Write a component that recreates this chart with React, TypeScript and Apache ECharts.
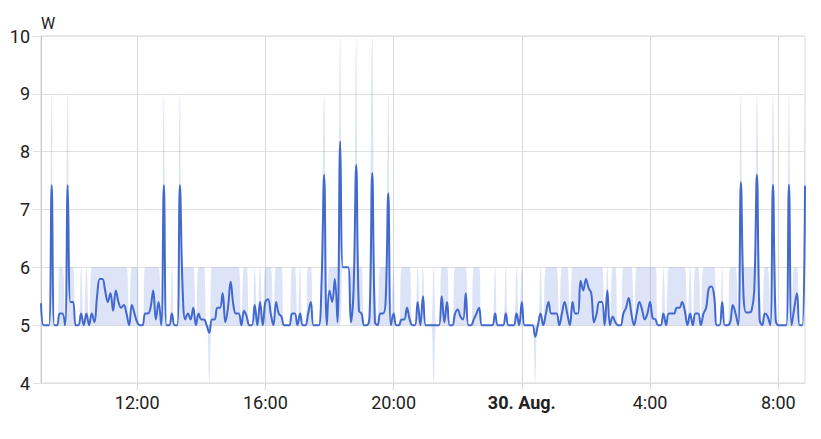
import { useEffect, useRef } from "react";
import * as echarts from "echarts";

// 5-minute statistics, 29 Aug 09:00 -> 30 Aug 08:50 (one row = one hour)
const START_HOUR = 9; // hours since 29 Aug 00:00
const STEP_HOURS = 5 / 60;

const MEAN: number[] = [
  5.38, 5, 5, 5, 7.42, 5, 5, 5.2, 5.2, 5, 7.42, 5.4,
  5.4, 5, 5, 5.2, 5, 5.2, 5, 5.2, 5.05, 5.5, 5.8, 5.8,
  5.6, 5.4, 5.55, 5.25, 5.6, 5.4, 5.3, 5.35, 5.2, 5, 5.35, 5.2,
  5.05, 5, 5, 5.2, 5.2, 5.3, 5.6, 5.1, 5.4, 5, 7.42, 5,
  5, 5.2, 5, 5, 7.42, 5.65, 5.1, 5.2, 5.1, 5.3, 5, 5.2,
  5.1, 5.1, 5, 4.87, 5.1, 5.1, 5.3, 5.3, 5.55, 5.05, 5.3, 5.75,
  5.35, 5.2, 5.2, 5, 5.25, 5.15, 5, 5, 5.35, 5, 5.4, 5,
  5.4, 5.45, 5.2, 5, 5.4, 5.2, 5.15, 5, 5, 5, 5.2, 5.2,
  5, 5.2, 5, 5, 5.2, 5.4, 5, 5, 5, 5.7, 7.6, 5,
  5.6, 5.4, 5.8, 5.05, 8.18, 6, 6, 6, 5.05, 5.6, 7.77, 5.25,
  5.2, 5, 5, 5.15, 7.63, 5.05, 5, 5.2, 5.2, 5.4, 7.28, 5,
  5.2, 5, 5, 5.1, 5.1, 5.3, 5.1, 5, 5, 5.4, 5, 5.5,
  5, 5, 5, 5, 5, 5, 5.5, 5.05, 5.4, 5, 5, 5.2,
  5.27, 5.15, 5.1, 5.55, 5, 5, 5.1, 5.2, 5.3, 5, 5, 5,
  5, 5, 5.2, 5, 5, 5, 5.2, 5, 5, 5, 5.2, 5,
  5.4, 5, 5, 5, 5, 4.8, 5, 5.2, 5, 5.2, 5.4, 5.2,
  5.2, 5.2, 5, 5.2, 5.4, 5.2, 5, 5.4, 5.2, 5.2, 5.77, 5.6,
  5.8, 5.64, 5.55, 5.05, 5.2, 5.4, 5.4, 5, 5.6, 5, 5.15, 5.05,
  5, 5, 5.2, 5.3, 5.47, 5.2, 5, 5.2, 5.4, 5.27, 5.1, 5.2,
  5.4, 5.12, 5.1, 5, 5, 5.2, 5, 5.2, 5.2, 5.2, 5.3, 5.3,
  5.4, 5.25, 5, 5.2, 5, 5.2, 5.2, 5, 5.2, 5.3, 5.64, 5.67,
  5.5, 5, 5, 5.4, 5, 5, 5.05, 5.35, 5.2, 5, 7.47, 5.5,
  5.22, 5.22, 5.25, 5.6, 7.6, 5.1, 5, 5.2, 5.15, 5, 7.43, 5.1,
  5, 5, 5, 5, 7.43, 5, 5.3, 5.55, 5, 5, 7.41,
];

const MIN: number[] = [
  5, 5, 5, 5, 5, 5, 5, 5, 5, 5, 5, 5,
  5, 5, 5, 5, 5, 5, 5, 5, 5, 5, 5, 5,
  5, 5, 5, 5, 5, 5, 5, 5, 5, 5, 5, 5,
  5, 5, 5, 5, 5, 5, 5, 5, 5, 5, 5, 5,
  5, 5, 5, 5, 5, 5, 5, 5, 5, 5, 5, 5,
  5, 5, 5, 4, 5, 5, 5, 5, 5, 5, 5, 5,
  5, 5, 5, 5, 5, 5, 5, 5, 5, 5, 5, 5,
  5, 5, 5, 5, 5, 5, 5, 5, 5, 5, 5, 5,
  5, 5, 5, 5, 5, 5, 5, 5, 5, 5, 5, 5,
  5, 5, 5, 5, 5, 6, 6, 6, 5, 5, 5, 5,
  5, 5, 5, 5, 5, 5, 5, 5, 5, 5, 5, 5,
  5, 5, 5, 5, 5, 5, 5, 5, 5, 5, 5, 5,
  5, 5, 5, 4, 5, 5, 5, 5, 5, 5, 5, 5,
  5, 5, 5, 5, 5, 5, 5, 5, 5, 5, 5, 5,
  5, 5, 5, 5, 5, 5, 5, 5, 5, 5, 5, 5,
  5, 5, 5, 5, 5, 4, 5, 5, 5, 5, 5, 5,
  5, 5, 5, 5, 5, 5, 5, 5, 5, 5, 5, 5,
  5, 5, 5, 5, 5, 5, 5, 5, 5, 5, 5, 5,
  5, 5, 5, 5, 5, 5, 5, 5, 5, 5, 5, 5,
  5, 5, 5, 5, 5, 5, 5, 5, 5, 5, 5, 5,
  5, 5, 5, 5, 5, 5, 5, 5, 5, 5, 5, 5,
  5, 5, 5, 5, 5, 5, 5, 5, 5, 5, 5, 5,
  5, 5, 5, 5, 5, 5, 5, 5, 5, 5, 5, 5,
  5, 5, 5, 5, 5, 5, 5, 5, 5, 5, 5,
];

const MAX: number[] = [
  6, 5, 5, 5, 9, 5, 5, 6, 6, 5, 9, 6,
  6, 5, 5, 6, 5, 6, 5, 6, 6, 6, 6, 6,
  6, 6, 6, 6, 6, 6, 6, 6, 6, 5, 6, 6,
  6, 5, 5, 6, 6, 6, 6, 6, 6, 5, 9, 5,
  5, 6, 5, 5, 9, 6, 6, 6, 6, 6, 5, 6,
  6, 6, 5, 5, 6, 6, 6, 6, 6, 6, 6, 6,
  6, 6, 6, 5, 6, 6, 5, 5, 6, 5, 6, 5,
  6, 6, 6, 5, 6, 6, 6, 5, 5, 5, 6, 6,
  5, 6, 5, 5, 6, 6, 5, 5, 5, 6, 9, 5,
  6, 6, 6, 6, 10, 6, 6, 6, 6, 6, 10, 6,
  6, 5, 5, 6, 10, 6, 5, 6, 6, 6, 9, 5,
  6, 5, 5, 6, 6, 6, 6, 5, 5, 6, 5, 6,
  5, 5, 5, 6, 5, 5, 6, 6, 6, 5, 5, 6,
  6, 6, 6, 6, 5, 5, 6, 6, 6, 5, 5, 5,
  5, 5, 6, 5, 5, 5, 6, 5, 5, 5, 6, 5,
  6, 5, 5, 5, 5, 5, 5, 6, 5, 6, 6, 6,
  6, 6, 5, 6, 6, 6, 5, 6, 6, 6, 6, 6,
  6, 6, 6, 6, 6, 6, 6, 5, 6, 5, 6, 6,
  5, 5, 6, 6, 6, 6, 5, 6, 6, 6, 6, 6,
  6, 6, 6, 5, 5, 6, 5, 6, 6, 6, 6, 6,
  6, 6, 5, 6, 5, 6, 6, 5, 6, 6, 6, 6,
  6, 5, 5, 6, 5, 5, 6, 6, 6, 5, 9, 6,
  6, 6, 6, 6, 9, 6, 5, 6, 6, 5, 9, 6,
  5, 5, 5, 5, 9, 5, 6, 6, 5, 5, 9,
];

// x-axis ticks in hours since 29 Aug 00:00, and their labels
const X_TICKS = [12, 16, 20, 24, 28, 32];
const X_LABELS = ["12:00", "16:00", "20:00", "30. Aug.", "4:00", "8:00"];
const BOLD_LABELS = ["30. Aug."];
const Y_MIN = 4;
const Y_MAX = 10;
const Y_STEP = 1;
const UNIT = "W";

const LINE_COLOR = "#4269d0";
const BAND_COLOR = "rgba(66,105,208,0.18)";
const GRID_COLOR = "#e0e0e0";
const VGRID_COLOR = "#d9d9d9";
const TEXT_COLOR = "#212121";
const FONT = "Roboto";

const HOUR_MS = 3600 * 1000;
const DAY0 = Date.UTC(2024, 7, 29);

export default function App() {
  const ref = useRef<HTMLDivElement>(null);

  useEffect(() => {
    if (!ref.current) return;
    const chart = echarts.init(ref.current, undefined, { renderer: "svg" });

    const xs = MEAN.map((_, i) => START_HOUR + i * STEP_HOURS);
    // same instants as timestamps, for the (hidden) time axis that the stacked band uses
    const ts = xs.map((h) => DAY0 + Math.round(h * HOUR_MS));
    const smooth = 0.4;

    chart.setOption({
      animation: false,
      grid: {
        left: 41,
        right: 16,
        top: 36,
        bottom: 56,
        show: true,
        borderColor: VGRID_COLOR,
        borderWidth: 1,
        backgroundColor: "transparent",
      },
      xAxis: [
        {
          type: "value",
          min: xs[0],
          max: xs[xs.length - 1],
          axisLine: { show: true, lineStyle: { color: GRID_COLOR } },
          axisTick: {
            show: true,
            length: 7,
            customValues: X_TICKS,
            lineStyle: { color: VGRID_COLOR },
          },
          splitLine: { show: true, lineStyle: { color: VGRID_COLOR } },
          axisLabel: {
            customValues: X_TICKS,
            margin: 10,
            color: TEXT_COLOR,
            fontSize: 18,
            fontFamily: FONT,
            hideOverlap: false,
            formatter: (v: number) => {
              const k = X_TICKS.findIndex((t) => Math.abs(t - v) < 1e-6);
              if (k < 0) return "";
              const s = X_LABELS[k];
              return BOLD_LABELS.includes(s) ? `{b|${s}}` : s;
            },
            rich: {
              b: { fontWeight: "bold", fontSize: 18, fontFamily: FONT, color: TEXT_COLOR },
            },
          },
        },
        {
          type: "time",
          show: false,
          min: ts[0],
          max: ts[ts.length - 1],
          splitLine: { show: false },
        },
      ],
      yAxis: {
        type: "value",
        min: Y_MIN,
        max: Y_MAX,
        interval: Y_STEP,
        name: UNIT,
        nameLocation: "end",
        nameGap: 5,
        nameTextStyle: {
          color: TEXT_COLOR,
          fontSize: 16,
          fontFamily: FONT,
          align: "left",
        },
        axisLine: { show: true, lineStyle: { color: "#c8c8c8" } },
        axisTick: { show: true, length: 8, lineStyle: { color: GRID_COLOR } },
        splitLine: { show: true, lineStyle: { color: GRID_COLOR } },
        axisLabel: {
          margin: 11,
          color: TEXT_COLOR,
          fontSize: 18,
          fontFamily: FONT,
        },
      },
      series: [
        {
          type: "line",
          name: "min",
          xAxisIndex: 1,
          stack: "band",
          symbol: "none",
          smooth,
          silent: true,
          lineStyle: { opacity: 0 },
          data: MIN.map((v, i) => [ts[i], v]),
        },
        {
          type: "line",
          name: "max",
          xAxisIndex: 1,
          stack: "band",
          symbol: "none",
          smooth,
          silent: true,
          lineStyle: { opacity: 0 },
          areaStyle: { color: BAND_COLOR, opacity: 1 },
          data: MAX.map((v, i) => [ts[i], v - MIN[i]]),
        },
        {
          type: "line",
          name: "mean",
          xAxisIndex: 0,
          symbol: "none",
          smooth,
          lineStyle: { color: LINE_COLOR, width: 2 },
          data: MEAN.map((v, i) => [xs[i], v]),
        },
      ],
    });

    return () => chart.dispose();
  }, []);

  return (
    <div
      ref={ref}
      style={{ position: "fixed", left: 0, top: 0, width: 821, height: 439, background: "#fff" }}
    />
  );
}
